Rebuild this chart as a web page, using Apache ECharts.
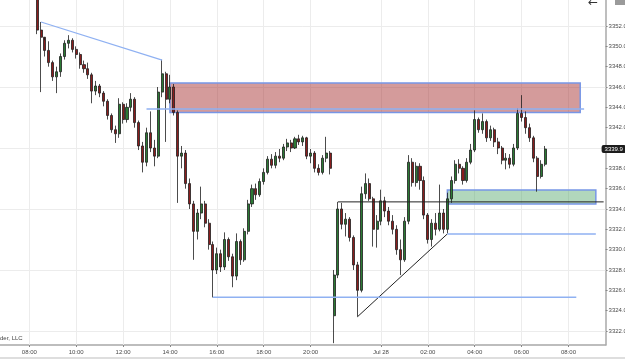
<!DOCTYPE html>
<html>
<head>
<meta charset="utf-8">
<script src="https://cdn.jsdelivr.net/npm/echarts@6.0.0/dist/echarts.min.js"></script>
<style>
html,body{margin:0;padding:0;background:#fff}
#chart{width:625px;height:359px}
</style>
</head>
<body>
<div id="chart"></div>
<script>
// 10 minute bars, Jul 27 06:50 -> Jul 28 09:30, no trading 21:00-21:50
const categories = [];
function pad(n){ return (n < 10 ? '0' : '') + n; }
for (let m = 6 * 60 + 50; m <= 24 * 60 + 9 * 60 + 30; m += 10) {
  const h = Math.floor(m / 60);
  if (h === 21) continue;
  categories.push((h >= 24 ? 'Jul 28 ' : 'Jul 27 ') + pad(h % 24) + ':' + pad(m % 60));
}

const labelTimes = ['Jul 27 08:00','Jul 27 10:00','Jul 27 12:00','Jul 27 14:00','Jul 27 16:00','Jul 27 18:00','Jul 27 20:00',
  'Jul 28 00:00','Jul 28 02:00','Jul 28 04:00','Jul 28 06:00','Jul 28 08:00'];
const priceLabels = [3322,3324,3326,3328,3330,3332,3334,3336,3338,3340,3342,3344,3346,3348,3350,3352];
const priceGrid = [3322,3328,3334,3340,3346,3352];

const firstBar = 'Jul 27 08:20';
// [open, close, low, high]
const ohlc = [
  [3355.0,3351.6,3351.2,3355.5],[3351.6,3350.9,3345.5,3352.4],[3350.9,3349.6,3349.0,3350.6],[3349.6,3348.4,3348.0,3350.5],
  [3348.4,3347.0,3346.6,3348.6],[3347.0,3347.5,3345.4,3348.0],[3347.5,3349.0,3347.0,3349.3],[3349.0,3350.3,3348.7,3350.6],
  [3350.3,3350.6,3349.8,3351.1],[3350.6,3349.7,3349.4,3350.8],[3349.7,3349.2,3348.8,3350.0],[3349.2,3348.2,3347.8,3349.4],
  [3348.2,3347.8,3347.4,3348.6],[3347.8,3347.2,3346.8,3348.4],[3347.2,3345.6,3344.4,3347.4],[3345.6,3346.1,3345.2,3346.6],
  [3346.1,3345.4,3345.0,3346.3],[3345.4,3344.6,3344.1,3345.6],[3344.6,3343.2,3342.8,3344.8],[3343.2,3341.8,3341.5,3343.4],
  [3341.8,3341.4,3340.5,3342.2],[3341.4,3344.3,3341.0,3344.9],[3344.3,3342.8,3342.4,3344.5],[3342.8,3344.0,3342.5,3344.4],
  [3344.0,3344.8,3343.6,3345.4],[3344.8,3342.5,3342.0,3345.0],[3342.5,3340.2,3339.8,3342.7],[3340.2,3338.6,3337.6,3340.6],
  [3338.6,3341.5,3338.2,3342.0],[3341.5,3340.0,3339.6,3343.6],[3340.0,3339.2,3338.2,3340.8],[3339.2,3345.5,3339.0,3346.0],
  [3345.5,3347.3,3345.0,3348.7],[3347.3,3344.8,3340.6,3347.5],[3344.8,3346.0,3344.4,3347.2],[3346.0,3343.5,3343.2,3346.3],
  [3343.5,3339.2,3334.6,3343.7],[3339.2,3339.5,3338.0,3340.2],[3339.5,3336.5,3336.0,3339.8],[3336.5,3334.5,3334.0,3337.0],
  [3334.5,3331.8,3329.0,3334.8],[3331.8,3333.6,3331.0,3334.0],[3333.6,3334.5,3333.0,3336.2],[3334.5,3332.6,3332.2,3334.8],
  [3332.6,3330.5,3330.0,3333.0],[3330.5,3328.0,3325.3,3330.8],[3328.0,3329.6,3327.6,3330.2],[3329.6,3328.3,3327.8,3330.0],
  [3328.3,3331.0,3328.0,3331.7],[3331.0,3329.3,3328.9,3331.2],[3329.3,3327.4,3326.3,3329.6],[3327.4,3330.8,3327.0,3331.6],
  [3330.8,3329.0,3328.5,3331.0],[3329.0,3331.8,3328.8,3332.1],[3331.8,3334.5,3331.5,3334.9],[3334.5,3336.0,3334.2,3336.4],
  [3336.0,3335.4,3334.9,3336.5],[3335.4,3336.7,3335.2,3337.0],[3336.7,3337.6,3336.4,3338.0],[3337.6,3338.9,3337.4,3339.2],
  [3338.9,3338.3,3338.0,3339.4],[3338.3,3339.2,3338.0,3339.6],[3339.2,3339.0,3338.6,3339.9],[3339.0,3340.1,3338.8,3340.4],
  [3340.1,3340.5,3339.7,3340.9],[3340.5,3340.0,3339.6,3340.8],[3340.0,3340.9,3339.9,3341.1],[3340.9,3340.6,3340.3,3341.3],
  [3340.6,3341.0,3340.2,3341.2],[3341.0,3339.2,3338.9,3341.1],[3339.2,3339.5,3338.5,3339.9],[3339.5,3338.0,3337.6,3339.7],
  [3338.0,3337.6,3337.3,3338.4],[3337.6,3339.0,3337.4,3339.3],[3339.0,3339.5,3338.6,3341.1],[3339.5,3338.0,3337.4,3339.7],
  // Jul 27 22:00
  [3323.5,3327.5,3320.8,3328.0],[3327.5,3334.0,3327.2,3334.7],[3334.0,3332.5,3332.0,3334.6],[3332.5,3333.0,3331.3,3333.6],
  [3333.0,3331.2,3330.8,3333.2],[3331.2,3328.5,3328.0,3331.4],[3328.5,3326.0,3323.4,3328.8],[3326.0,3335.5,3325.8,3336.2],
  [3335.5,3336.5,3335.0,3337.5],[3336.5,3335.0,3334.8,3337.0],[3335.0,3332.0,3330.3,3335.2],[3332.0,3332.8,3330.2,3333.4],
  [3332.8,3334.8,3332.4,3335.9],[3334.8,3333.8,3333.2,3335.2],[3333.8,3332.8,3332.4,3334.2],[3332.8,3332.0,3331.5,3333.4],
  [3332.0,3330.0,3329.5,3332.4],[3330.0,3329.0,3327.5,3331.0],[3329.0,3332.8,3328.8,3333.2],[3332.8,3338.6,3332.5,3339.3],
  [3338.6,3336.6,3336.2,3339.0],[3336.6,3338.2,3336.2,3338.6],[3338.2,3336.8,3335.9,3338.5],[3336.8,3333.4,3333.0,3337.2],
  [3333.4,3331.0,3330.6,3333.6],[3331.0,3332.6,3330.3,3333.0],[3332.6,3332.0,3331.4,3333.6],[3332.0,3333.6,3331.8,3336.4],
  [3333.6,3332.0,3331.6,3334.0],[3332.0,3335.0,3331.6,3335.6],[3335.0,3336.8,3334.6,3337.2],[3336.8,3338.4,3336.5,3338.8],
  [3338.4,3338.0,3337.5,3338.9],[3338.0,3336.8,3336.4,3338.2],[3336.8,3338.6,3336.6,3339.0],[3338.6,3339.8,3338.4,3340.4],
  [3339.8,3342.8,3339.6,3343.7],[3342.8,3341.8,3341.5,3343.0],[3341.8,3342.6,3341.4,3343.4],[3342.6,3341.0,3340.6,3342.8],
  [3341.0,3341.8,3340.7,3342.2],[3341.8,3340.6,3340.1,3342.0],[3340.6,3340.0,3339.4,3341.0],[3340.0,3338.8,3338.4,3340.2],
  [3338.8,3339.0,3337.9,3339.5],[3339.0,3338.4,3338.0,3339.4],[3338.4,3340.0,3338.2,3340.4],[3340.0,3343.4,3339.8,3343.9],
  [3343.4,3343.0,3342.6,3345.2],[3343.0,3342.0,3341.4,3343.6],[3342.0,3341.0,3340.6,3342.4],[3341.0,3339.0,3338.6,3341.2],
  [3339.0,3337.2,3335.7,3339.2],[3337.2,3338.4,3337.0,3338.8],[3338.4,3339.9,3338.2,3340.2]
];

// drawing annotations (time, price)
const redZone = ['Jul 27 14:00', 'Jul 28 08:30', 3346.4, 3343.5];
const greenZone = ['Jul 28 02:50', 'Jul 28 09:10', 3335.87, 3334.5];
const blueTrend = [['Jul 27 08:30', 3352.4], ['Jul 27 13:40', 3348.65]];
const blueLevels = [
  [['Jul 27 13:00', 3343.84], ['Jul 28 08:40', 3343.84]],
  [['Jul 28 02:50', 3331.55], ['Jul 28 09:10', 3331.55]],
  [['Jul 27 15:50', 3325.32], ['Jul 28 08:20', 3325.32]]
];
const blackLevel = [['Jul 27 22:10', 3334.7], ['Jul 28 09:30', 3334.7]];
const blackTrend = [['Jul 27 23:00', 3323.4], ['Jul 28 02:50', 3331.55]];

const start = categories.indexOf(firstBar);
const candles = categories.map((c, i) => ohlc[i - start] || '-');
const lastClose = ohlc[ohlc.length - 1][1];

const chart = echarts.init(document.getElementById('chart'));
const font = 'Liberation Sans';
const blue = '#8fb1f2';
const edge = '#7796e6';

function segment(points, color, width) {
  return {
    type: 'line', data: points, showSymbol: false, silent: true, z: 4,
    lineStyle: { color: color, width: width }
  };
}

const series = [
  {
    // background grid
    type: 'line', data: [], z: 1, silent: true,
    markLine: {
      z: 1, symbol: ['none', 'none'], silent: true, label: { show: false },
      lineStyle: { color: '#ececec', width: 1, type: 'solid' },
      data: priceGrid.map(v => ({ yAxis: v })).concat(labelTimes.map(t => ({ xAxis: t })))
    }
  },
  {
    type: 'line', data: [], z: 2, silent: true,
    markArea: {
      z: 2, silent: true,
      data: [
        [{ xAxis: redZone[0], yAxis: redZone[2], itemStyle: { color: 'rgba(165,45,45,0.48)', borderColor: edge, borderWidth: 1.5 } },
         { xAxis: redZone[1], yAxis: redZone[3] }],
        [{ xAxis: greenZone[0], yAxis: greenZone[2], itemStyle: { color: 'rgba(70,160,95,0.42)', borderColor: edge, borderWidth: 1.5 } },
         { xAxis: greenZone[1], yAxis: greenZone[3] }]
      ]
    }
  },
  {
    type: 'candlestick', data: candles, z: 3, barWidth: '65%',
    itemStyle: { color: '#2c7a35', color0: '#8a1d1d', borderColor: '#1e1e1e', borderColor0: '#1e1e1e', borderWidth: 0.8 }
  },
  {
    // last price tag on the price axis
    type: 'line', data: [], z: 6, silent: true,
    markLine: {
      z: 6, symbol: ['none', 'none'], silent: true,
      lineStyle: { color: 'rgba(0,0,0,0)', width: 0 },
      label: {
        show: true, position: 'end', distance: -4, formatter: () => lastClose.toFixed(1),
        color: '#fff', backgroundColor: '#1c1c1c', borderRadius: 2, padding: [1, 3, 1, 3],
        fontSize: 6, fontFamily: font
      },
      data: [{ yAxis: lastClose }]
    }
  },
  segment(blueTrend, blue, 1.2),
  segment(blackLevel, '#222', 1),
  segment(blackTrend, '#222', 1)
].concat(blueLevels.map(l => segment(l, blue, 1.5)));

chart.setOption({
  animation: false,
  backgroundColor: '#fff',
  grid: { left: 0, right: 19.4, top: 0, bottom: 14, containLabel: false, outerBoundsMode: 'none' },
  xAxis: {
    type: 'category', data: categories, boundaryGap: true,
    axisLine: { lineStyle: { color: '#a8a8a8', width: 1.5 } },
    axisTick: { show: true, alignWithLabel: true, length: 2, interval: (i, v) => labelTimes.includes(v), lineStyle: { color: '#888' } },
    axisLabel: {
      interval: (i, v) => labelTimes.includes(v), margin: 4,
      formatter: v => v.endsWith('00:00') ? 'Jul 28' : v.slice(-5),
      fontSize: 6, color: '#4a4a4a', fontFamily: font
    },
    splitLine: { show: false }
  },
  yAxis: {
    type: 'value', position: 'right', min: 3320.62, max: 3354.56, scale: true,
    axisLine: { show: true, lineStyle: { color: '#a8a8a8', width: 1.5 } },
    axisTick: { show: true, length: 2, customValues: priceLabels, lineStyle: { color: '#888' } },
    axisLabel: { customValues: priceLabels, formatter: v => v.toFixed(1), margin: 3, fontSize: 6, color: '#4a4a4a', fontFamily: font },
    splitLine: { show: false }
  },
  graphic: [
    { type: 'text', left: 0, top: 335, style: { text: 'der, LLC', fontSize: 6, fill: '#444', fontFamily: font } },
    { type: 'text', left: 588, top: -3, style: { text: '\u2190', fontSize: 12, fill: '#333', fontFamily: 'DejaVu Sans' } },
    { type: 'rect', shape: { x: 615, y: 0, width: 10, height: 5 }, style: { fill: '#9a9a9a' } },
    { type: 'rect', shape: { x: 0, y: 357, width: 625, height: 2 }, style: { fill: '#dedede' } }
  ],
  series: series
});
</script>
</body>
</html>
